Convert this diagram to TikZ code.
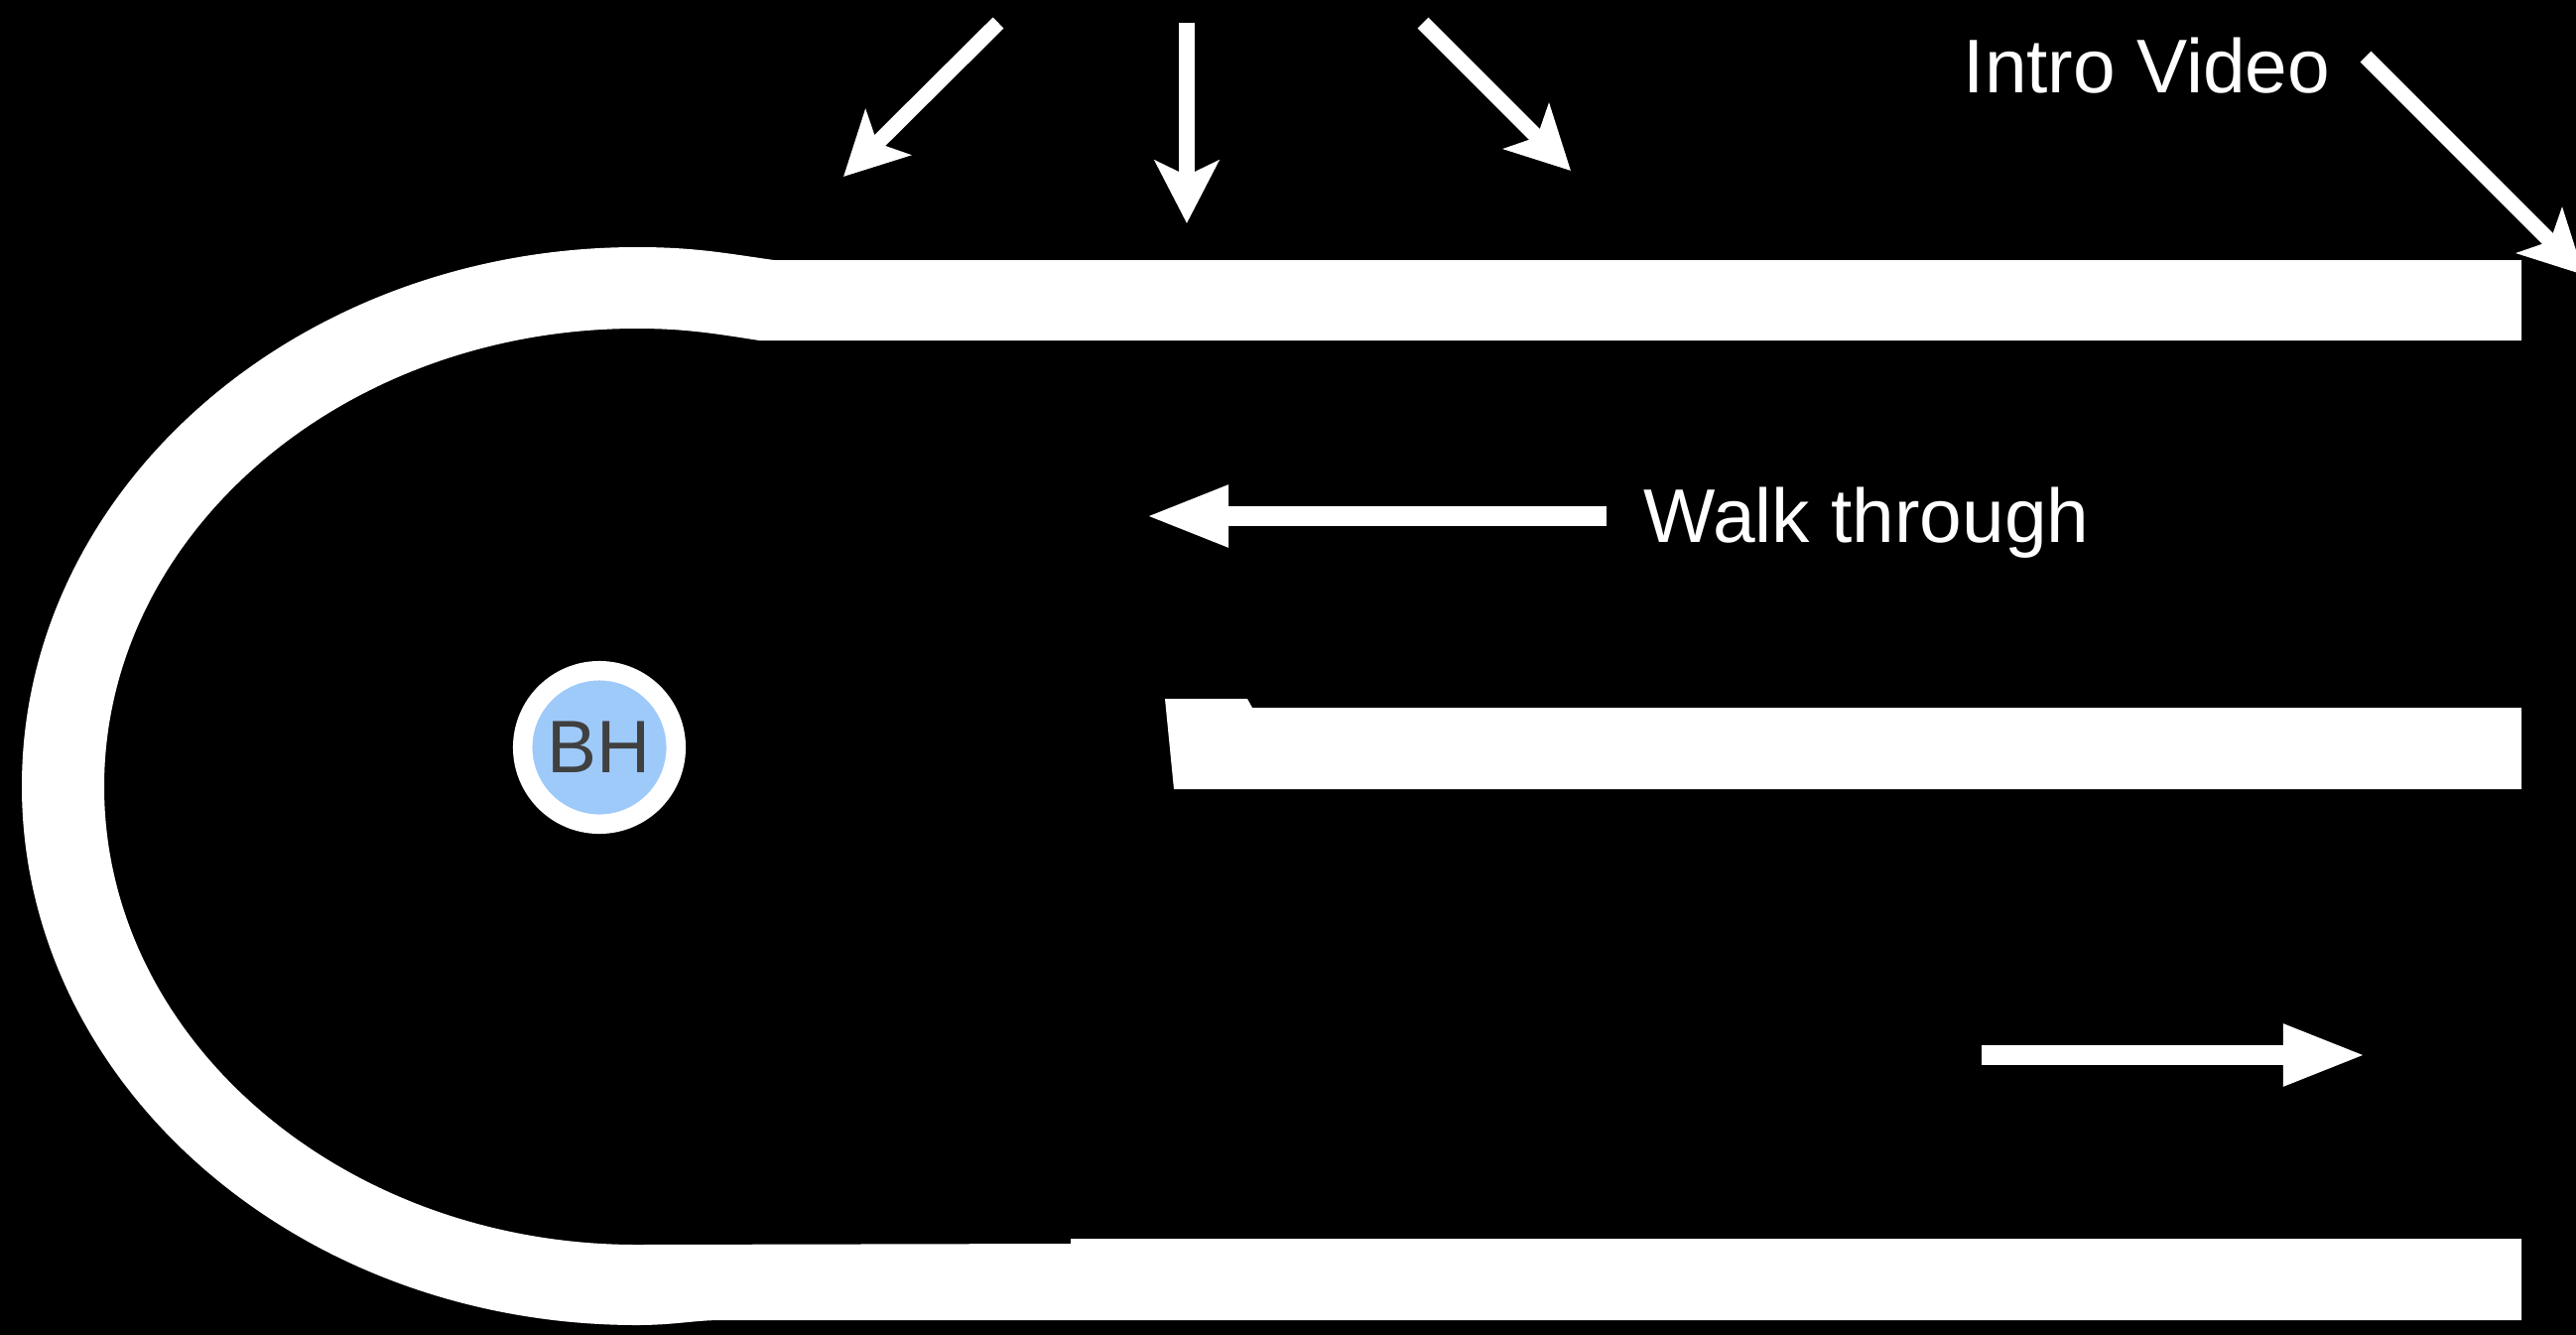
\documentclass[tikz,border=0pt]{standalone}
\usepackage{fontspec}
\setmainfont{Liberation Sans}
\usetikzlibrary{arrows.meta}
\definecolor{bhblue}{RGB}{158,202,250}
\definecolor{bhtext}{RGB}{64,64,64}
\begin{document}
\begin{tikzpicture}[x=0.01cm,y=0.01cm,
  wall/.style={fill=white,draw=none},
  blockarrow/.style={draw=white,line width=0.195cm,-{Triangle[length=0.84cm,width=0.57cm]}},
  stealtharrow/.style={draw=white,line width=0.155cm,-{Stealth[length=0.63cm,width=0.64cm,inset=0.15cm]}},
  lbl/.style={text=white,font=\fontsize{21.8pt}{26pt}\selectfont,inner sep=0pt}]
\fill[black] (0,0) rectangle (2596,-1345);
\useasboundingbox (0,0) rectangle (2596,-1345);
% outer U-shaped wall with top and bottom arms
\fill[wall] (2541,-262) -- (780,-262) .. controls (730,-255) and (700,-249) .. (642,-249)
  arc[start angle=90,end angle=270,x radius=620,y radius=543]
  .. controls (680,-1335) and (700,-1330) .. (727,-1330) -- (2541,-1330) -- (2541,-1248) -- (1079,-1248) -- (1079,-1253) -- (642,-1254)
  arc[start angle=270,end angle=90,x radius=537,y radius=461.5]
  .. controls (690,-331) and (720,-336) .. (765,-343) -- (2541,-343) -- cycle;
% middle wall
\fill[wall] (1174,-704) -- (1257,-704) -- (1262,-713) -- (2541,-713) -- (2541,-795) -- (1183,-795) -- cycle;
% BH marker
\node[circle,fill=bhblue,draw=white,line width=0.195cm,minimum size=1.545cm,inner sep=0pt,
  text=bhtext,font=\fontsize{21.3pt}{24pt}\selectfont] (bh) at (604,-753) {BH};
% top arrows
\coordinate (a1s) at (1006,-23); \coordinate (a1e) at (850,-178);
\coordinate (a2s) at (1196,-23); \coordinate (a2e) at (1196,-225);
\coordinate (a3s) at (1434,-23); \coordinate (a3e) at (1583,-172);
\draw[stealtharrow] (a1s) -- (a1e);
\draw[stealtharrow] (a2s) -- (a2e);
\draw[stealtharrow] (a3s) -- (a3e);
% intro video
\node[lbl,anchor=base west] (intro) at (1978,-93) {Intro Video};
\coordinate (ivs) at (2384,-57); \coordinate (ive) at (2604,-277);
\draw[stealtharrow] (ivs) -- (ive);
% walk through
\node[lbl,anchor=base west] (walk) at (1656,-546) {Walk through};
\coordinate (ws) at (1619,-520); \coordinate (we) at (1154,-520);
\draw[blockarrow] (ws) -- (we);
% bottom arrow
\coordinate (bs) at (1997,-1063); \coordinate (be) at (2385,-1063);
\draw[blockarrow] (bs) -- (be);
\end{tikzpicture}
\end{document}
